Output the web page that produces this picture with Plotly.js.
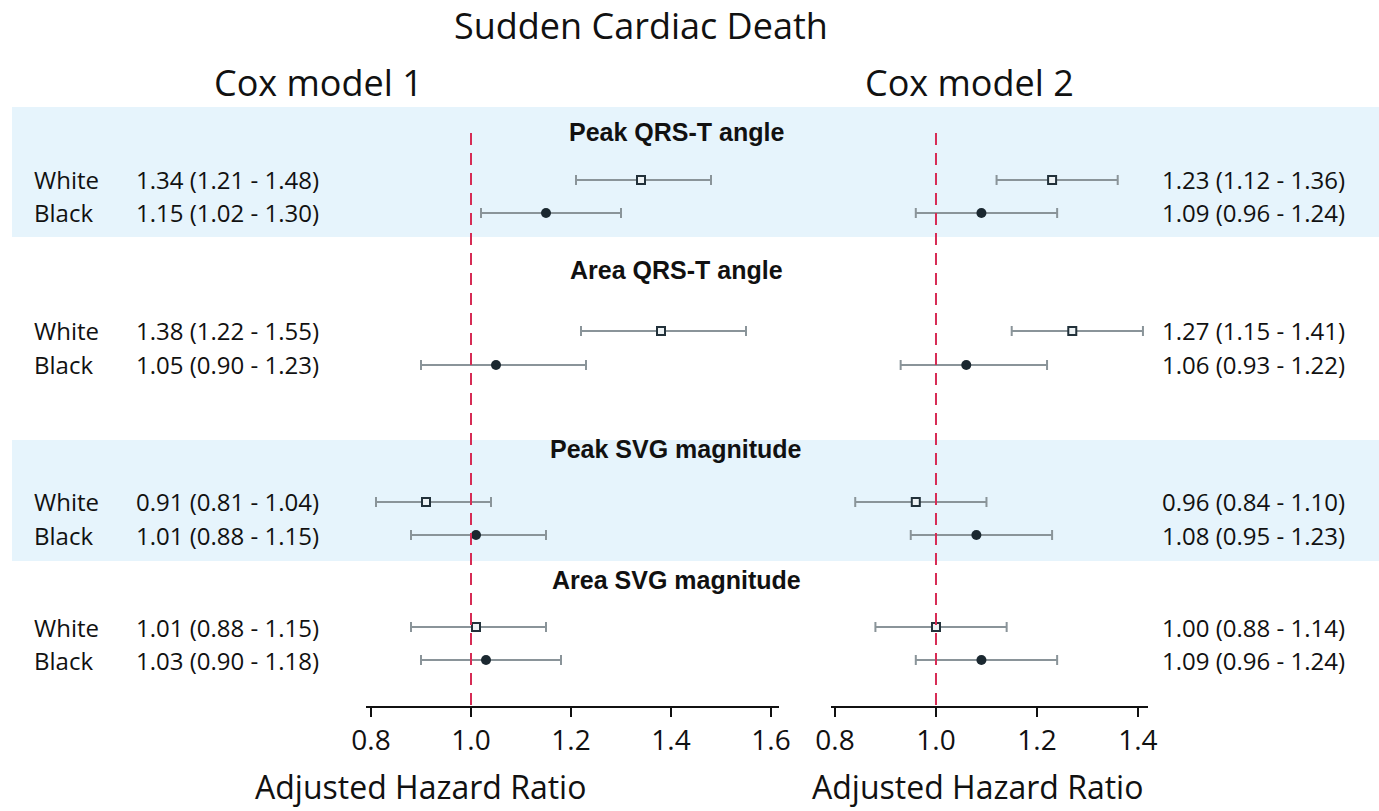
<!DOCTYPE html>
<html>
<head>
<meta charset="utf-8">
<script src="https://cdn.plot.ly/plotly-3.0.1.min.js"></script>
<style>html,body{margin:0;padding:0;background:#fff;}#chart{width:1379px;height:811px;}</style>
</head>
<body>
<div id="chart"></div>
<script>
// ---------- DATA ----------
const groups = ["Peak QRS-T angle", "Area QRS-T angle", "Peak SVG magnitude", "Area SVG magnitude"];
const races = ["White", "Black"];

// Cox model 1
const m1WhiteHR = [1.34, 1.38, 0.91, 1.01];
const m1WhiteLo = [1.21, 1.22, 0.81, 0.88];
const m1WhiteHi = [1.48, 1.55, 1.04, 1.15];
const m1BlackHR = [1.15, 1.05, 1.01, 1.03];
const m1BlackLo = [1.02, 0.90, 0.88, 0.90];
const m1BlackHi = [1.30, 1.23, 1.15, 1.18];

// Cox model 2
const m2WhiteHR = [1.23, 1.27, 0.96, 1.00];
const m2WhiteLo = [1.12, 1.15, 0.84, 0.88];
const m2WhiteHi = [1.36, 1.41, 1.10, 1.14];
const m2BlackHR = [1.09, 1.06, 1.08, 1.09];
const m2BlackLo = [0.96, 0.93, 0.95, 0.96];
const m2BlackHi = [1.24, 1.22, 1.23, 1.24];

const xTicks1 = [0.8, 1.0, 1.2, 1.4, 1.6];
const xTicks2 = [0.8, 1.0, 1.2, 1.4];
const refLine = 1.0;

// ---------- LAYOUT CONSTANTS (vertical row layout, in y-axis units) ----------
const W = 1379, H = 811;
const titleRowY = [132, 270, 449, 580];
const whiteRowY = [180, 331, 502, 627];
const blackRowY = [213, 365, 535, 660];
const yTop = 107, yBottom = 706;
const bands = [[107, 237], [440, 561]];

const FONT = "Open Sans, DejaVu Sans, sans-serif";
const BOLD = "Liberation Sans, Arial, sans-serif";
const px = v => v / W;
const py = v => 1 - v / H;

const fmt = (h, l, u) => `${h.toFixed(2)} (${l.toFixed(2)} - ${u.toFixed(2)})`;

const barColor = "#8a9499";
function whiteTrace(hr, lo, hi, xa) {
  return {
    type: "scatter", mode: "markers", xaxis: xa, yaxis: "y",
    x: hr, y: whiteRowY,
    error_x: { type: "data", symmetric: false,
      array: hr.map((v, i) => hi[i] - v), arrayminus: hr.map((v, i) => v - lo[i]),
      color: barColor, thickness: 2, width: 5 },
    marker: { symbol: "square", size: 8, color: "#eef3f5", line: { color: "#22313a", width: 2 } },
    hoverinfo: "skip", showlegend: false
  };
}
function blackTrace(hr, lo, hi, xa) {
  return {
    type: "scatter", mode: "markers", xaxis: xa, yaxis: "y",
    x: hr, y: blackRowY,
    error_x: { type: "data", symmetric: false,
      array: hr.map((v, i) => hi[i] - v), arrayminus: hr.map((v, i) => v - lo[i]),
      color: barColor, thickness: 2, width: 5 },
    marker: { symbol: "circle", size: 10, color: "#1b2830" },
    hoverinfo: "skip", showlegend: false
  };
}

const traces = [
  whiteTrace(m1WhiteHR, m1WhiteLo, m1WhiteHi, "x"),
  blackTrace(m1BlackHR, m1BlackLo, m1BlackHi, "x"),
  whiteTrace(m2WhiteHR, m2WhiteLo, m2WhiteHi, "x2"),
  blackTrace(m2BlackHR, m2BlackLo, m2BlackHi, "x2")
];

const shapes = [];
bands.forEach(b => shapes.push({
  type: "rect", xref: "paper", yref: "y", x0: px(12), x1: 1, y0: b[0], y1: b[1],
  fillcolor: "#e6f4fc", line: { width: 0 }, layer: "below"
}));
["x", "x2"].forEach(xa => shapes.push({
  type: "line", xref: xa, yref: "y", x0: refLine, x1: refLine, y0: 133, y1: yBottom,
  line: { color: "#d62c55", width: 2, dash: "12px,8px" }, layer: "above"
}));

const ann = [];
const txt = (text, x, y, size, opts = {}) => Object.assign({
  text, x, y, xref: "paper", yref: "paper", showarrow: false,
  font: { family: FONT, size, color: "#111" }, xanchor: "center", yanchor: "middle"
}, opts);

ann.push(txt("Sudden Cardiac Death", px(641), py(26), 36));
ann.push(txt("Cox model 1", px(318), py(82), 36));
ann.push(txt("Cox model 2", px(969), py(82), 36));
ann.push(txt("Adjusted Hazard Ratio", px(420), py(786), 32));
ann.push(txt("Adjusted Hazard Ratio", px(977), py(786), 32));

groups.forEach((g, i) => {
  ann.push({ text: "<b>" + g + "</b>", x: px(676), y: titleRowY[i], xref: "paper", yref: "y",
    showarrow: false, font: { family: BOLD, size: 25, color: "#111" }, xanchor: "center", yanchor: "middle" });
  const rows = [
    [races[0], whiteRowY[i], fmt(m1WhiteHR[i], m1WhiteLo[i], m1WhiteHi[i]), fmt(m2WhiteHR[i], m2WhiteLo[i], m2WhiteHi[i])],
    [races[1], blackRowY[i], fmt(m1BlackHR[i], m1BlackLo[i], m1BlackHi[i]), fmt(m2BlackHR[i], m2BlackLo[i], m2BlackHi[i])]
  ];
  rows.forEach(r => {
    ann.push({ text: r[0], x: px(32), y: r[1], xref: "paper", yref: "y", showarrow: false,
      font: { family: FONT, size: 24, color: "#111" }, xanchor: "left", yanchor: "middle" });
    ann.push({ text: r[2], x: px(227), y: r[1], xref: "paper", yref: "y", showarrow: false,
      font: { family: FONT, size: 24, color: "#111" }, xanchor: "center", yanchor: "middle" });
    ann.push({ text: r[3], x: px(1253), y: r[1], xref: "paper", yref: "y", showarrow: false,
      font: { family: FONT, size: 24, color: "#111" }, xanchor: "center", yanchor: "middle" });
  });
});

const axisCommon = {
  showgrid: false, zeroline: false, showline: true, linecolor: "#111", linewidth: 1.5,
  ticks: "outside", ticklen: 9, tickwidth: 1.5, tickcolor: "#111",
  tickfont: { family: FONT, size: 28, color: "#111" }, tickformat: ".1f",
  tickmode: "array", anchor: "y", fixedrange: true
};

const layout = {
  width: W, height: H,
  margin: { l: 0, r: 0, t: 0, b: 0 },
  paper_bgcolor: "#fff", plot_bgcolor: "rgba(0,0,0,0)",
  showlegend: false,
  xaxis: Object.assign({}, axisCommon, { domain: [px(366), px(779)], range: [0.79, 1.616], tickvals: xTicks1 }),
  xaxis2: Object.assign({}, axisCommon, { domain: [px(831), px(1148)], range: [0.792, 1.42], tickvals: xTicks2 }),
  yaxis: { domain: [py(yBottom), py(yTop)], range: [yBottom, yTop], visible: false, fixedrange: true },
  shapes: shapes,
  annotations: ann
};

Plotly.newPlot("chart", traces, layout, { displayModeBar: false, staticPlot: true });
</script>
</body>
</html>
